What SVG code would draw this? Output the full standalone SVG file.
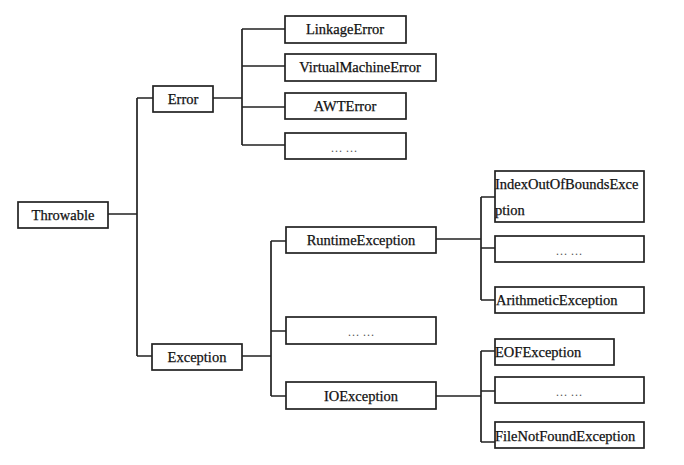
<svg xmlns="http://www.w3.org/2000/svg" width="684" height="465" viewBox="0 0 684 465">
<style>
.box{fill:#fff;stroke:#222;stroke-width:1.7}
.t{font-family:"Liberation Serif","Times New Roman",serif;font-size:14.5px;fill:#111;stroke:#111;stroke-width:0.25}
.c{text-anchor:middle}
.d{font-family:"Liberation Serif",serif;font-size:12px;fill:#555;text-anchor:middle}
.ln{fill:none;stroke:#222;stroke-width:1.7}
</style>
<rect width="684" height="465" fill="#fff"/>
<g id="connectors" class="ln">
<path d="M108 214H137M137 98V356M137 98H153M137 356H152"/>
<path d="M213 98H242M242 29V145M242 29H285M242 66H285M242 107H285M242 145H285"/>
<path d="M242 356H271M271 241V396M271 241H286M271 331H286M271 396H286"/>
<path d="M436 239H481M481 197V300M481 197H495M481 248H495M481 300H495"/>
<path d="M436 396H481M481 351V442M481 351H495M481 391H495M481 442H495"/>
</g>
<g id="throwable"><rect class="box" x="18" y="202" width="90" height="26"/><text class="t c" x="63" y="220">Throwable</text></g>
<g id="error"><rect class="box" x="153" y="86" width="60" height="26"/><text class="t c" x="183" y="104">Error</text></g>
<g id="exception"><rect class="box" x="152" y="344" width="90" height="26"/><text class="t c" x="197" y="362">Exception</text></g>
<g id="linkageerror"><rect class="box" x="285" y="16" width="121" height="27"/><text class="t c" x="345" y="34">LinkageError</text></g>
<g id="vmerror"><rect class="box" x="285" y="54" width="151" height="27"/><text class="t c" x="360" y="72">VirtualMachineError</text></g>
<g id="awterror"><rect class="box" x="285" y="93" width="121" height="26"/><text class="t c" x="345" y="111">AWTError</text></g>
<g id="error-more"><rect class="box" x="285" y="133" width="121" height="26"/><text class="d" x="344" y="152">… …</text></g>
<g id="runtimeexception"><rect class="box" x="286" y="227" width="150" height="26"/><text class="t c" x="361" y="245">RuntimeException</text></g>
<g id="exception-more"><rect class="box" x="286" y="317" width="150" height="27"/><text class="d" x="361" y="336">… …</text></g>
<g id="ioexception"><rect class="box" x="286" y="382" width="150" height="27"/><text class="t c" x="361" y="401">IOException</text></g>
<g id="indexoutofbounds"><rect class="box" x="495" y="171" width="149" height="51"/><text class="t" x="495" y="189">IndexOutOfBoundsExce</text><text class="t" x="495" y="215">ption</text></g>
<g id="runtime-more"><rect class="box" x="495" y="236" width="149" height="26"/><text class="d" x="569" y="255">… …</text></g>
<g id="arithmetic"><rect class="box" x="495" y="287" width="149" height="26"/><text class="t" x="496" y="305">ArithmeticException</text></g>
<g id="eofexception"><rect class="box" x="495" y="339" width="119" height="26"/><text class="t" x="495" y="357">EOFException</text></g>
<g id="io-more"><rect class="box" x="495" y="377" width="149" height="26"/><text class="d" x="569" y="396">… …</text></g>
<g id="filenotfound"><rect class="box" x="495" y="422" width="149" height="26"/><text class="t" x="495" y="441">FileNotFoundException</text></g>
</svg>
